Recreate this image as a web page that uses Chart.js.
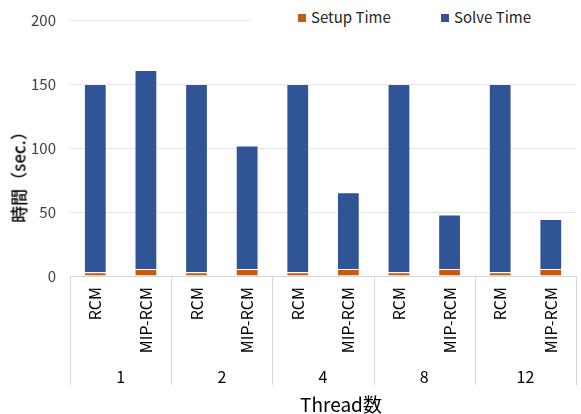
<!DOCTYPE html>
<html>
<head>
<meta charset="utf-8">
<script src="https://cdn.jsdelivr.net/npm/chart.js@4"></script>
<style>
  body { margin: 0; background: #fff; font-family: "Noto Sans CJK JP", "Noto Sans", sans-serif; }
  #wrap { position: relative; width: 581px; height: 414px; overflow: hidden; }
  #myChart { position: absolute; left: 0; top: -3px; }
  #legend { position: absolute; left: 250px; top: 6px; width: 326px; height: 22px; background: #fff;
            font-size: 15px; color: #262626; }
  .item { position: absolute; top: 0; line-height: 22px; white-space: nowrap; }
  .box { display: inline-block; width: 8px; height: 8px; margin-right: 5px; vertical-align: 1px; }
  #ytitle { position: absolute; left: 18px; top: 173px; transform: translate(-50%, -50%) rotate(-90deg);
            font-size: 17px; font-weight: 500; color: #000; white-space: nowrap; }
  #xtitle { position: absolute; left: 341px; top: 403px; transform: translate(-50%, -50%);
            font-size: 19px; color: #000; white-space: nowrap; }
</style>
</head>
<body>
<div id="wrap">
  <canvas id="myChart" width="581" height="417"></canvas>
  <div id="legend">
    <div class="item" style="left:48px"><span class="box" style="background:#C55A11"></span>Setup Time</div>
    <div class="item" style="left:191px"><span class="box" style="background:#2F5597"></span>Solve Time</div>
  </div>
  <div id="ytitle">時間（sec.）</div>
  <div id="xtitle">Thread数</div>
</div>
<script>
var threads = ['1', '2', '4', '8', '12'];
var methods = ['RCM', 'MIP-RCM'];
var setupTime = [3, 5.5, 3, 5.5, 3, 5.5, 3, 5.5, 3, 5.5];
var solveTime = [147, 155.5, 147, 96.5, 147, 60, 147, 42.5, 147, 39];
var yTicks = [0, 50, 100, 150, 200];

var barLabels = [];
for (var i = 0; i < threads.length; i++) {
    for (var j = 0; j < methods.length; j++) {
        barLabels.push(methods[j]);
    }
}

// group divider lines under the axis
var dividers = {
    id: 'dividers',
    afterDraw: function (chart) {
        var x = chart.scales.x;
        var x2 = chart.scales.x2;
        var ctx = chart.ctx;
        var w = (x.right - x.left) / threads.length;
        ctx.save();
        ctx.strokeStyle = '#d9d9d9';
        ctx.lineWidth = 1;
        for (var k = 0; k <= threads.length; k++) {
            var px = Math.round(x.left + k * w) + 0.5;
            ctx.beginPath();
            ctx.moveTo(px, chart.chartArea.bottom);
            ctx.lineTo(px, x2.bottom);
            ctx.stroke();
        }
        ctx.restore();
    }
};

new Chart(document.getElementById('myChart'), {
    type: 'bar',
    data: {
        labels: barLabels,
        datasets: [{
            label: 'Setup Time',
            data: setupTime,
            backgroundColor: '#C55A11',
            borderColor: 'rgba(255,255,255,0.35)',
            borderWidth: 1,
            barPercentage: 0.45,
            categoryPercentage: 1
        }, {
            label: 'Solve Time',
            data: solveTime,
            backgroundColor: '#2F5597',
            borderColor: 'rgba(255,255,255,0.35)',
            borderWidth: 1,
            barPercentage: 0.45,
            categoryPercentage: 1
        }]
    },
    options: {
        responsive: false,
        animation: false,
        layout: { padding: { left: 0, right: -6, top: 9, bottom: 29 } },
        plugins: {
            legend: { display: false },
            tooltip: { enabled: false }
        },
        scales: {
            x: {
                stacked: true,
                grid: { display: false, drawTicks: false },
                border: { display: true, color: '#d9d9d9' },
                ticks: {
                    minRotation: 90, maxRotation: 90, autoSkip: false, padding: 11,
                    color: '#000', font: { family: '"Noto Sans CJK JP"', size: 16 }
                },
                afterFit: function (s) { s.height = 86; }
            },
            x2: {
                type: 'category',
                labels: threads,
                position: 'bottom',
                grid: { display: false, drawTicks: false },
                border: { display: false },
                ticks: { padding: 5, color: '#000', font: { family: '"Noto Sans CJK JP"', size: 16 } },
                afterFit: function (s) { s.height = 23; }
            },
            y: {
                stacked: true,
                min: 0,
                max: 200,
                afterBuildTicks: function (s) { s.ticks = yTicks.map(function (v) { return { value: v }; }); },
                grid: { color: '#e3e3e3', drawTicks: false },
                border: { display: false },
                ticks: { padding: 14, color: '#404040', font: { family: '"Noto Sans CJK JP"', size: 15 } },
                afterFit: function (s) { s.width = 70; }
            }
        }
    },
    plugins: [dividers]
});
</script>
</body>
</html>
